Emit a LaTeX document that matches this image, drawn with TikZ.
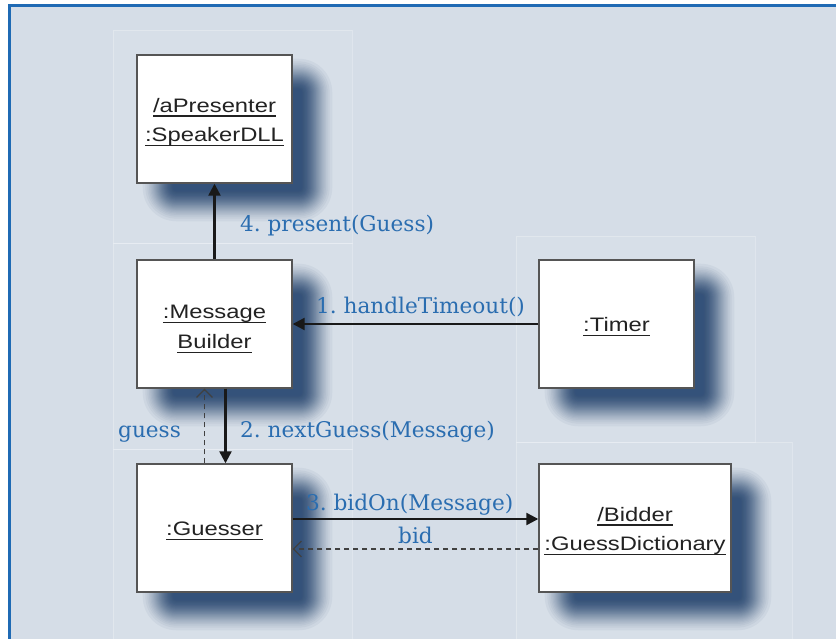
\documentclass[tikz,border=0pt]{standalone}
\usepackage{fontspec}
\setmainfont{DejaVu Serif}
\newfontfamily\boxfont[FakeStretch=1.22]{Liberation Sans}
\usetikzlibrary{arrows.meta}
\definecolor{bgc}{HTML}{D5DDE7}
\definecolor{framec}{HTML}{1F6AB4}
\definecolor{lblc}{HTML}{2A6DB0}
\definecolor{shc}{HTML}{34527A}
\definecolor{boxline}{HTML}{555555}
\definecolor{boxtext}{HTML}{222222}
\newcommand\ulx[1]{\leavevmode\setbox0\hbox{#1}\rlap{\smash{\rule[-4.5pt]{\wd0}{1.3pt}}}\box0}
\pgfdeclarelayer{back}
\pgfdeclarelayer{shade}
\pgfsetlayers{back,shade,main}
\begin{document}
\frenchspacing
\begin{tikzpicture}[x=1pt,y=-1pt,
  obj/.style={draw=boxline, line width=1.4pt, fill=white, minimum width=155pt,
    minimum height=128pt, inner sep=0pt},
  objtext/.style={inner sep=0pt, align=center,
    font=\boxfont\fontsize{19.5}{29.5}\selectfont, text=boxtext},
  lbl/.style={text=lblc, inner sep=0pt, anchor=base west,
    font=\fontsize{21.6}{24}\selectfont},
  msg/.style={line width=2.3pt, draw=black!90, -{Triangle[length=12pt,width=12pt]}},
  ret/.style={line width=1.1pt, draw=black!75, dash pattern=on 5pt off 4pt,
    -{Straight Barb[length=8pt,width=16pt]}},
  panel/.style={draw=white, draw opacity=0.25, line width=0.8pt, fill=white, fill opacity=0.06}]
\useasboundingbox (0,0) rectangle (836,639);
\begin{pgfonlayer}{back}
  \fill[white] (0,0) rectangle (836,639);
  \fill[bgc] (8,4) rectangle (836,639);
  \draw[panel] (113,30) rectangle (352,243);
  \draw[panel] (113,243) rectangle (352,449);
  \draw[panel] (113,449) rectangle (352,645);
  \draw[panel] (516,236) rectangle (755,442);
  \draw[panel] (516,442) rectangle (792,645);
  \draw[framec, line width=3pt, line join=miter] (9.5,645) -- (9.5,5.5) -- (840,5.5);
\end{pgfonlayer}

\node[obj] (pres) at (214.5,119) {};
\node[obj] (mb) at (214.5,324) {};
\node[obj] (timer) at (616.5,324) {};
\node[obj] (gs) at (214.5,528) {};
\node[obj, minimum width=192pt] (bd) at (635,528) {};

\node[objtext] (prest) at ([yshift=-3pt]pres.center) {\ulx{/aPresenter}\\\ulx{:SpeakerDLL}};
\node[objtext] (mbt) at ([yshift=-3pt]mb.center) {\ulx{:Message}\\\ulx{Builder}};
\node[objtext] (timert) at ([yshift=-1pt]timer.center) {\ulx{:Timer}};
\node[objtext] (gst) at ([yshift=-1pt]gs.center) {\ulx{:Guesser}};
\node[objtext] (bdt) at ([yshift=-3pt]bd.center) {\ulx{/Bidder}\\\ulx{:GuessDictionary}};

\begin{pgfonlayer}{shade}
\foreach \n in {pres,mb,timer,gs,bd}{
  \foreach \k in {1,...,50}{
    \pgfmathsetmacro\o{1-0.94^\k}
    \pgfmathsetmacro\r{40-40*asin(sqrt(min(\o/0.955,1)))/90+0.01}
    \fill[shc, opacity=0.06, rounded corners=\r pt]
      ([shift={(40pt-\r pt,-38pt+\r pt)}]\n.north west) rectangle
      ([shift={(6pt+\r pt,-4pt-\r pt)}]\n.south east);
  }
}
\end{pgfonlayer}

\draw[msg] (mb.north) -- (pres.south);
\draw[msg] (timer.west) -- (mb.east);
\draw[msg] ([xshift=11pt]mb.south) -- ([xshift=11pt]gs.north);
\draw[ret] ([xshift=-10pt]gs.north) -- ([xshift=-10pt]mb.south);
\draw[msg] ([yshift=9pt]gs.east) -- ([yshift=9pt]gs.east -| bd.west);
\draw[ret] ([yshift=-21pt]gs.east -| bd.west) -- ([yshift=-21pt]gs.east);

\node[lbl] (l4) at (240,232) {4. present(Guess)};
\node[lbl] (l1) at (316,314) {1. handleTimeout()};
\node[lbl] (lg) at (118,437) {guess};
\node[lbl] (l2) at (240,437) {2. nextGuess(Message)};
\node[lbl] (l3) at (306,510) {3. bidOn(Message)};
\node[lbl] (lb) at (398,543) {bid};
\end{tikzpicture}
\end{document}
